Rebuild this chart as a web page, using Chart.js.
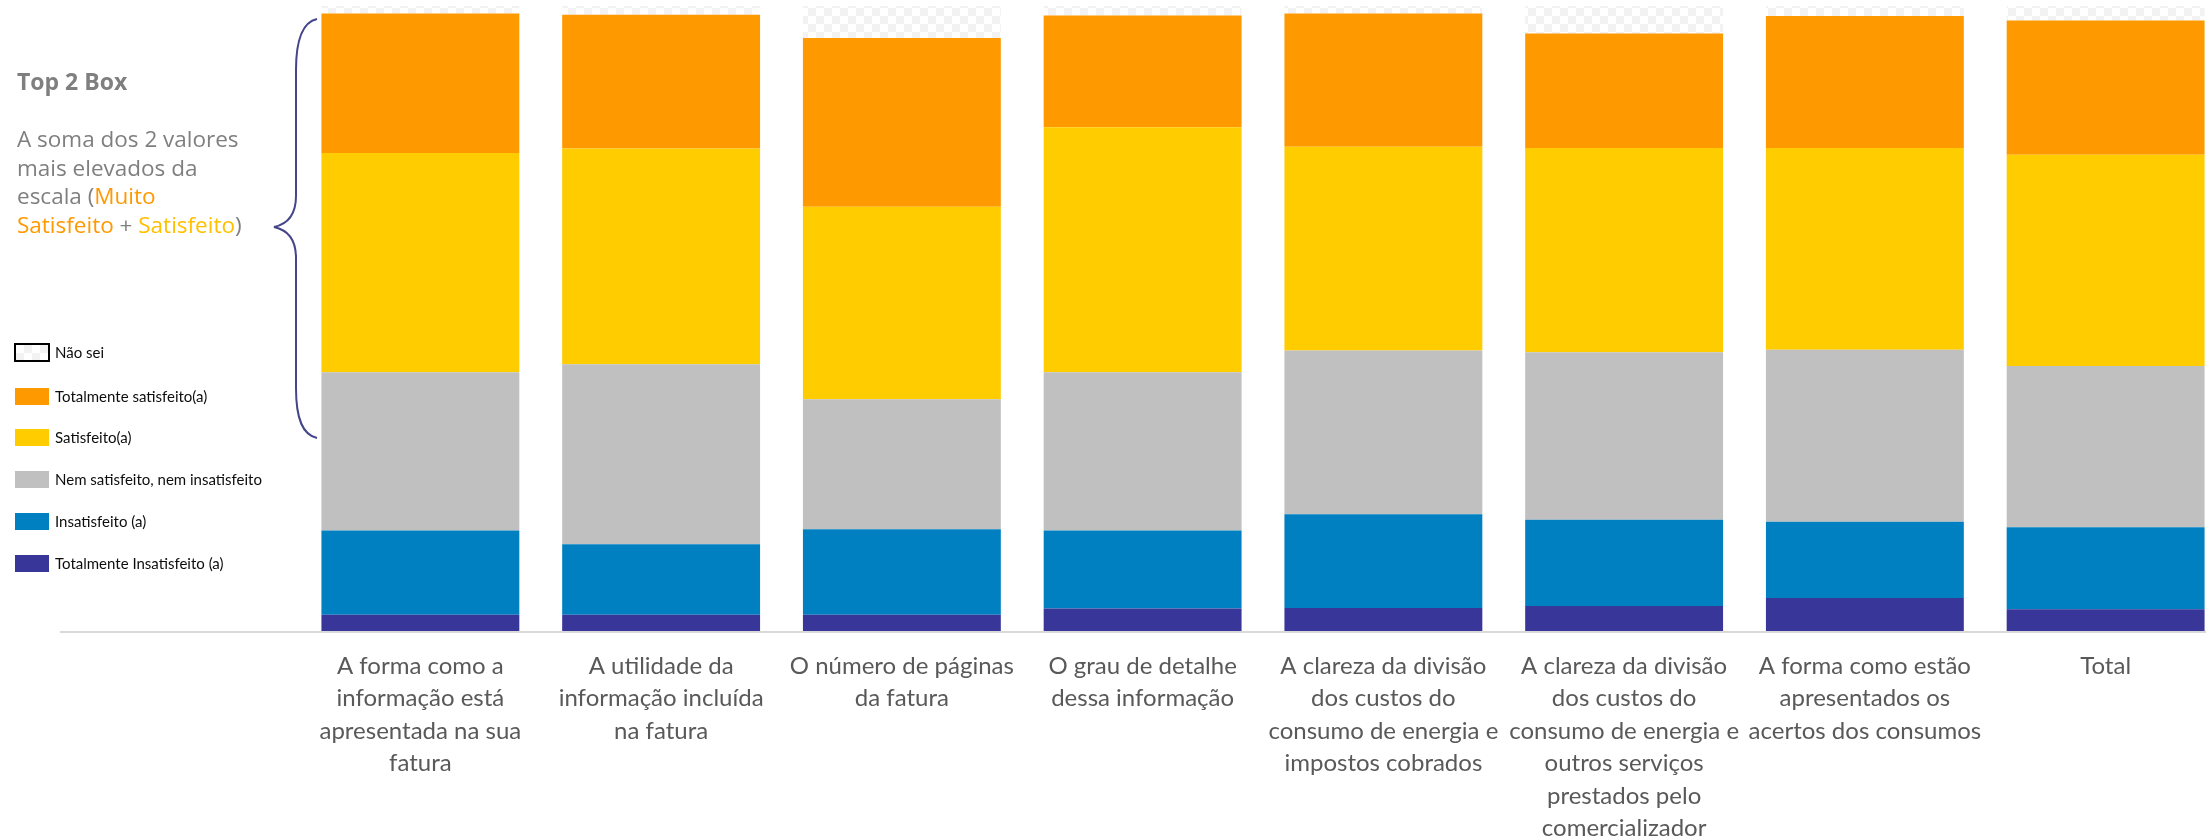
<!DOCTYPE html>
<html>
<head>
<meta charset="utf-8">
<script src="https://cdn.jsdelivr.net/npm/chart.js@4"></script>
<style>
  html, body { margin: 0; padding: 0; overflow: hidden; background: #fff; }
  #wrap { position: absolute; left: 0; top: 0; width: 2226px; height: 839px; }
  #note { position: absolute; left: 17px; top: 0; font-family: "Open Sans", sans-serif; color: #7f7f7f; white-space: nowrap; }
  #note .title { position: absolute; top: 65px; font-weight: bold; font-size: 23px; line-height: 32px; }
  #note .body { position: absolute; top: 125px; font-size: 22.5px; line-height: 28.5px; }
  #legend { position: absolute; left: 14px; top: 0; font-family: Lato, sans-serif; font-size: 15px; color: #0d0d0d; }
  .item { position: absolute; left: 0; height: 17px; white-space: nowrap; }
  .sw { position: absolute; left: 1px; top: 0; width: 34px; height: 17px; }
  .item span { position: absolute; left: 41px; top: 0; line-height: 17px; }
  #brace { position: absolute; left: 0; top: 0; }
</style>
</head>
<body>
<div id="wrap"><canvas id="chart"></canvas></div>
<div id="note">
  <div class="title">Top 2 Box</div>
  <div class="body">A soma dos 2 valores<br>mais elevados da<br>escala (<span style="color:#ff9900">Muito</span><br><span style="color:#ff9900">Satisfeito</span> + <span style="color:#ffc000">Satisfeito</span>)</div>
</div>
<svg id="brace" width="340" height="460">
  <path d="M317,19 C303,22 296,38 296,70 L296,196 C296,214 288,224 274,227 C288,230 296,240 296,258 L296,388 C296,420 303,435 317,438"
        fill="none" stroke="#45458a" stroke-width="2"/>
</svg>
<div id="legend"></div>
<script>
const categories = [
  ["A forma como a", "informação está", "apresentada na sua", "fatura"],
  ["A utilidade da", "informação incluída", "na fatura"],
  ["O número de páginas", "da fatura"],
  ["O grau de detalhe", "dessa informação"],
  ["A clareza da divisão", "dos custos do", "consumo de energia e", "impostos cobrados"],
  ["A clareza da divisão", "dos custos do", "consumo de energia e", "outros serviços", "prestados pelo", "comercializador"],
  ["A forma como estão", "apresentados os", "acertos dos consumos"],
  ["Total"]
];

// percentages, bottom of the stack first
const totInsat = [2.6, 2.6, 2.6, 3.6, 3.7, 4.0, 5.3, 3.5];
const insat    = [13.5, 11.3, 13.7, 12.5, 15.0, 13.8, 12.2, 13.1];
const nem      = [25.3, 28.8, 20.8, 25.3, 26.2, 26.8, 27.5, 25.8];
const satisf   = [35.1, 34.5, 30.8, 39.2, 32.6, 32.7, 32.3, 33.8];
const totSat   = [22.3, 21.4, 27.0, 17.9, 21.3, 18.3, 21.1, 21.5];
const naoSei   = [1.2, 1.4, 5.1, 1.5, 1.2, 4.4, 1.6, 2.3];

const seriesNames = ["Totalmente Insatisfeito (a)", "Insatisfeito (a)", "Nem satisfeito, nem insatisfeito",
                     "Satisfeito(a)", "Totalmente satisfeito(a)", "Não sei"];
const seriesData = [totInsat, insat, nem, satisf, totSat, naoSei];
const seriesColors = ["#383699", "#0080c0", "#c0c0c0", "#ffcc00", "#ff9900", null];

// checker pattern for "Não sei"
function checker() {
  const c = document.createElement("canvas");
  c.width = 16; c.height = 16;
  const g = c.getContext("2d");
  g.fillStyle = "#ffffff"; g.fillRect(0, 0, 16, 16);
  g.fillStyle = "#f2f2f2"; g.fillRect(0, 0, 8, 8); g.fillRect(8, 8, 8, 8);
  return g.createPattern(c, "repeat");
}
const pattern = checker();

// legend, top to bottom = reverse of stack order
const legend = document.getElementById("legend");
const legendTops = [344, 388, 429, 471, 513, 555];
seriesNames.slice().reverse().forEach((name, i) => {
  const idx = seriesNames.length - 1 - i;
  const item = document.createElement("div");
  item.className = "item";
  item.style.top = legendTops[i] + "px";
  const sw = document.createElement("div");
  sw.className = "sw";
  if (seriesColors[idx]) {
    sw.style.background = seriesColors[idx];
  } else {
    sw.style.background = "repeating-conic-gradient(#f2f2f2 0 25%, #fff 0 50%) 0 0/16px 16px";
    sw.style.border = "2px solid #000";
    sw.style.left = "0px";
    sw.style.top = "-1px";
    sw.style.width = "32px";
    sw.style.height = "15px";
  }
  const t = document.createElement("span");
  t.textContent = name;
  item.appendChild(sw);
  item.appendChild(t);
  legend.appendChild(item);
});

const baseLine = {
  id: "baseLine",
  afterDatasetsDraw(chart) {
    const { ctx, chartArea } = chart;
    ctx.save();
    ctx.strokeStyle = "#d9d9d9";
    ctx.lineWidth = 2;
    ctx.beginPath();
    ctx.moveTo(60, chartArea.bottom + 1);
    ctx.lineTo(chart.width, chartArea.bottom + 1);
    ctx.stroke();
    ctx.restore();
  }
};

new Chart(document.getElementById("chart"), {
  type: "bar",
  data: {
    labels: categories,
    datasets: seriesData.map((d, i) => ({
      label: seriesNames[i],
      data: d,
      backgroundColor: seriesColors[i] || pattern,
      borderWidth: 0,
      categoryPercentage: 1,
      barPercentage: 0.822
    }))
  },
  options: {
    responsive: true,
    maintainAspectRatio: false,
    animation: false,
    layout: { padding: { left: 300, top: 6, right: 0, bottom: 0 } },
    plugins: { legend: { display: false }, tooltip: { enabled: false } },
    scales: {
      x: {
        stacked: true,
        grid: { display: false, drawTicks: false },
        border: { display: false },
        afterFit(scale) { scale.height = 208; },
        ticks: {
          autoSkip: false,
          maxRotation: 0,
          minRotation: 0,
          padding: 19,
          color: "#595959",
          font: { family: "Lato", size: 24, lineHeight: 1.35 }
        }
      },
      y: { stacked: true, display: false, min: 0, max: 100 }
    }
  },
  plugins: [baseLine]
});
</script>
</body>
</html>
